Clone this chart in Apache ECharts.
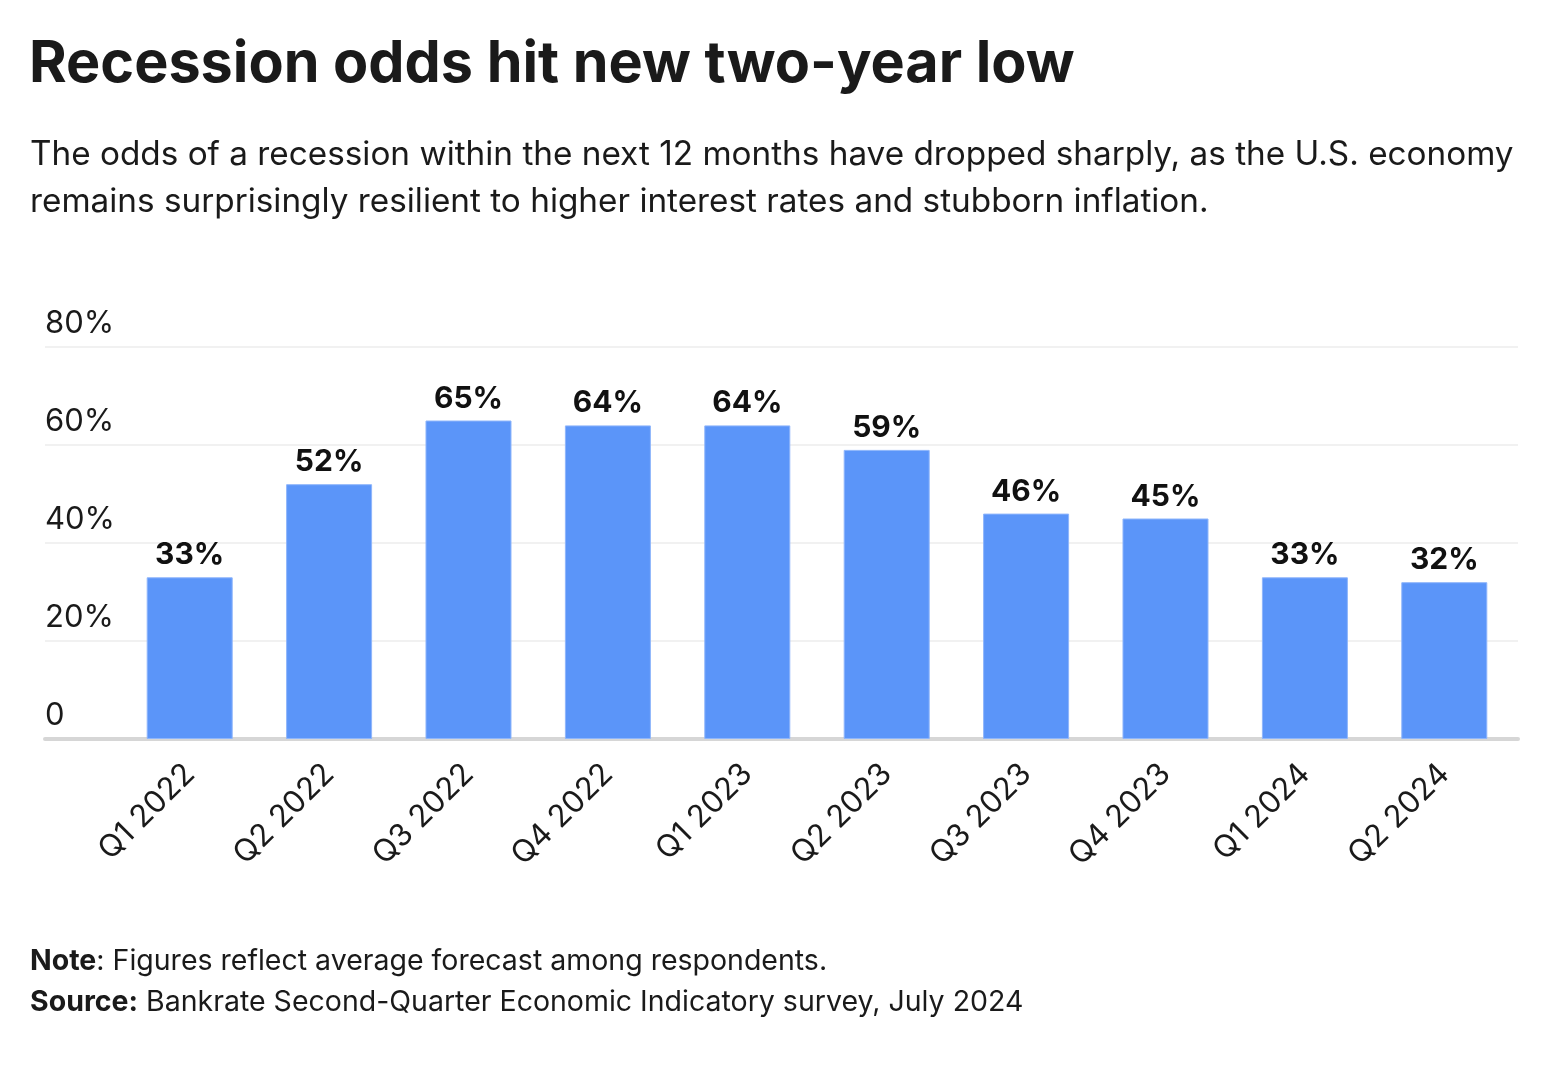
<!DOCTYPE html>
<html><head><meta charset="utf-8">
<script src="https://cdn.jsdelivr.net/npm/echarts@6/dist/echarts.min.js"></script>
<style>html,body{margin:0;padding:0;background:#fff}#c{width:1556px;height:1070px}</style>
</head><body><div id="c"></div>
<script>
const categories = ['Q1 2022','Q2 2022','Q3 2022','Q4 2022','Q1 2023','Q2 2023','Q3 2023','Q4 2023','Q1 2024','Q2 2024'];
const values = [33,52,65,64,64,59,46,45,33,32];
const yTicks = [0,20,40,60,80];

const FONT = 'Inter';
const chart = echarts.init(document.getElementById('c'), null, {renderer:'canvas'});
const txt = '#1a1a1a';
chart.setOption({
  backgroundColor:'#ffffff',
  animation:false,
  title:[
    {text:'Recession odds hit new two-year low', left:24, top:31,
     textStyle:{fontFamily:FONT, fontWeight:'bold', fontSize:57.5, color:txt}},
    {text:'The odds of a recession within the next 12 months have dropped sharply, as the U.S. economy\nremains surprisingly resilient to higher interest rates and stubborn inflation.',
     left:25, top:126, textStyle:{fontFamily:FONT, fontWeight:'normal', fontSize:33.3, lineHeight:47, color:txt}},
    {text:'{b|Note}: Figures reflect average forecast among respondents.\n{b|Source:} Bankrate Second-Quarter Economic Indicatory survey, July 2024',
     left:25, top:936, textStyle:{fontFamily:FONT, fontWeight:'normal', fontSize:28.5, lineHeight:41, color:txt,
       rich:{b:{fontFamily:FONT, fontWeight:'bold', fontSize:28.5, lineHeight:41, color:txt}}}}
  ],
  grid:[
    {left:120, right:42, top:347, bottom:331},
    {left:45, right:38, top:347, bottom:331}
  ],
  xAxis:[
    {type:'category', gridIndex:0, data:categories,
     axisLine:{show:false}, axisTick:{show:false},
     axisLabel:{rotate:45, margin:30, fontFamily:FONT, fontSize:31, color:txt, interval:0}},
    {type:'value', gridIndex:1, min:0, max:1, show:true,
     axisLine:{show:true, lineStyle:{color:'#d6d6d6', width:4}},
     axisTick:{show:false}, axisLabel:{show:false}, splitLine:{show:false}}
  ],
  yAxis:[
    {type:'value', gridIndex:0, min:0, max:80, interval:20, show:false, splitLine:{show:false}},
    {type:'value', gridIndex:1, min:0, max:80, interval:20,
     axisLine:{show:false}, axisTick:{show:false},
     splitLine:{show:true, lineStyle:{color:'#f1f1f1', width:2}},
     axisLabel:{inside:true, margin:0, align:'left', verticalAlign:'bottom', padding:[0,0,8,0],
       fontFamily:FONT, fontSize:31, color:txt,
       formatter:v => yTicks.includes(v) ? (v===0 ? '0' : v + '%') : ''}}
  ],
  series:[{
    type:'bar', xAxisIndex:0, yAxisIndex:0, data:values, barWidth:'61.7%',
    itemStyle:{color:'#5b95f9', borderColor:'#8fb6fb', borderWidth:1},
    label:{show:true, position:'top', distance:7, formatter:'{c}%',
      fontFamily:FONT, fontWeight:'bold', fontSize:30, color:'#111'}
  }]
});
</script>
</body></html>
